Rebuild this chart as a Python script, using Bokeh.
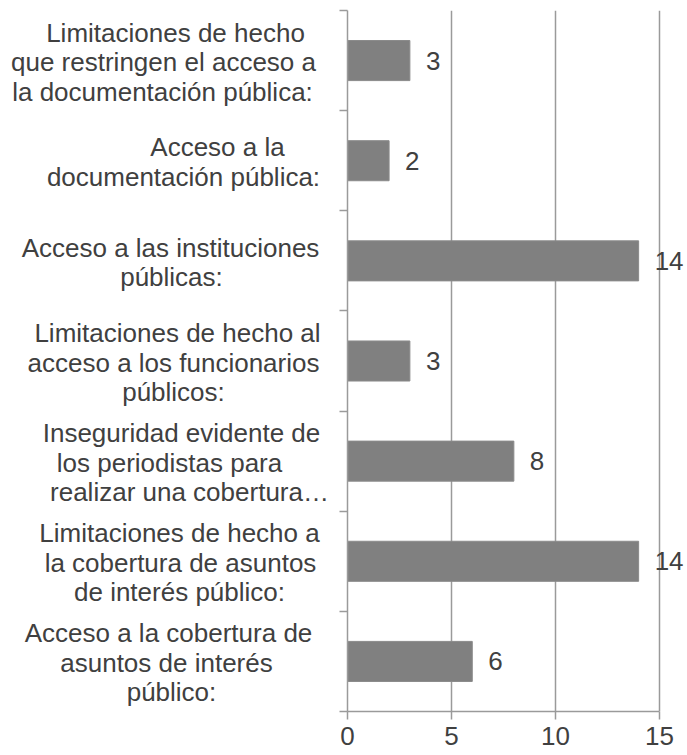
from bokeh.plotting import figure
from bokeh.layouts import row
from bokeh.models import Range1d, FixedTicker, ColumnDataSource, LabelSet
from bokeh.core.properties import value
from bokeh.embed import file_html
from bokeh.resources import INLINE

# Data (top to bottom as shown)
categories = [
    "Limitaciones de hecho\nque restringen el acceso a\nla documentación pública:",
    "Acceso a la\ndocumentación pública:",
    "Acceso a las instituciones\npúblicas:",
    "Limitaciones de hecho al\nacceso a los funcionarios\npúblicos:",
    "Inseguridad evidente de\nlos periodistas para\nrealizar una cobertura…",
    "Limitaciones de hecho a\nla cobertura de asuntos\nde interés público:",
    "Acceso a la cobertura de\nasuntos de interés\npúblico:",
]
values = [3, 2, 14, 3, 8, 14, 6]
x_ticks = [0, 5, 10, 15]

# layout only: horizontal centre (px) of each wrapped line of the category labels
line_centres = [
    [175, 163, 162],
    [217, 183],
    [170, 171],
    [177, 173, 173],
    [181, 169, 189],
    [179, 180, 179],
    [168, 166, 171],
]

n = len(categories)
ypos = [n - 1 - i + 0.5 for i in range(n)]

FONT = "Liberation Sans"
TXT = "#404040"
GRID = "#9a9a9a"
H = 755
TOP = 10
BOTTOM = 44
LEFT_W = 335
FRAME_LEFT = 347
LINE_H = 29.5

yr = Range1d(0, n)

# ---- left panel: category labels ----
L = figure(width=LEFT_W, height=H, x_range=Range1d(0, LEFT_W), y_range=yr,
           output_backend="svg", toolbar_location=None,
           min_border_left=0, min_border_right=0,
           min_border_top=TOP, min_border_bottom=BOTTOM)
L.axis.visible = False
L.grid.visible = False
L.outline_line_color = None

lx, ly, lyo, lt = [], [], [], []
for cat, y, centres in zip(categories, ypos, line_centres):
    lines = cat.split("\n")
    k = len(lines)
    for j, (ln, cx) in enumerate(zip(lines, centres)):
        lx.append(cx)
        ly.append(y)
        lyo.append((j - (k - 1) / 2) * LINE_H + 1.5)
        lt.append(ln)
csrc = ColumnDataSource(dict(x=lx, y=ly, yo=lyo, t=lt))
L.text(x="x", y="y", y_offset="yo", text="t", source=csrc, text_align="center",
       text_baseline="middle", text_font=value(FONT), text_font_size="26px",
       text_color=TXT)

# ---- right panel: bars ----
P = figure(width=687 - LEFT_W, height=H, x_range=Range1d(0, 16.35), y_range=yr,
           output_backend="svg", toolbar_location=None,
           min_border_left=FRAME_LEFT - LEFT_W, min_border_right=0,
           min_border_top=TOP, min_border_bottom=BOTTOM)
P.outline_line_color = None

src = ColumnDataSource(dict(y=ypos, v=values, lbl=[str(v) for v in values]))
P.hbar(y="y", left=0, right="v", height=0.4, source=src,
       fill_color="#808080", line_color="#8a8a8a", line_width=1)

P.ygrid.visible = False
P.xgrid.ticker = FixedTicker(ticks=x_ticks[1:])
P.xgrid.grid_line_color = GRID
P.xgrid.grid_line_width = 1.5
P.xgrid.level = "underlay"

xa = P.xaxis[0]
xa.ticker = FixedTicker(ticks=x_ticks)
xa.bounds = (x_ticks[0], x_ticks[-1])
xa.axis_line_color = GRID
xa.axis_line_width = 1.5
xa.major_tick_line_color = GRID
xa.major_tick_line_width = 1.5
xa.major_tick_out = 8
xa.major_tick_in = 0
xa.minor_tick_line_color = None
xa.major_label_text_font = FONT
xa.major_label_text_font_size = "26px"
xa.major_label_text_color = TXT
xa.major_label_standoff = 7

ya = P.yaxis[0]
bticks = list(range(n + 1))
ya.ticker = FixedTicker(ticks=bticks)
ya.major_label_overrides = {t: "" for t in bticks}
ya.major_label_text_color = None
ya.axis_line_color = GRID
ya.axis_line_width = 1.5
ya.major_tick_line_color = GRID
ya.major_tick_line_width = 1.5
ya.major_tick_out = 8
ya.major_tick_in = 0
ya.minor_tick_line_color = None
ya.major_label_standoff = 0

P.add_layout(LabelSet(x="v", y="y", text="lbl", source=src, x_offset=16,
                      text_align="left", text_baseline="middle",
                      text_font=value(FONT), text_font_size="26px",
                      text_color=TXT))

layout = row(L, P, spacing=0)
open("out.html", "w").write(file_html(layout, INLINE))
